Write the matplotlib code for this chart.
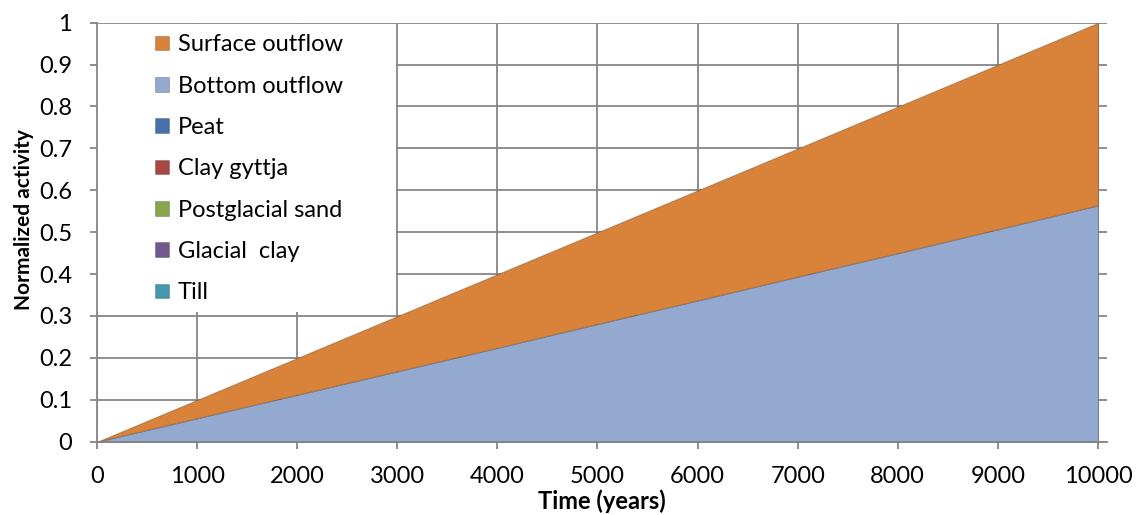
import matplotlib
matplotlib.use("Agg")
import matplotlib.pyplot as plt
import matplotlib.patches as mpatches
import numpy as np

plt.rcParams['font.family'] = ['Lato', 'DejaVu Sans']

# time axis (years) and normalized activity per compartment
time = [0, 1000, 2000, 3000, 4000, 5000, 6000, 7000, 8000, 9000, 10000]
till = [0] * 11
glacial_clay = [0] * 11
postglacial_sand = [0] * 11
clay_gyttja = [0] * 11
peat = [0] * 11
bottom_outflow = [0, 0.056, 0.112, 0.168, 0.224, 0.281, 0.337, 0.394, 0.450, 0.507, 0.564]
surface_outflow = [0, 0.044, 0.088, 0.132, 0.176, 0.219, 0.263, 0.306, 0.350, 0.393, 0.436]

labels = ['Till', 'Glacial  clay', 'Postglacial sand', 'Clay gyttja', 'Peat',
          'Bottom outflow', 'Surface outflow']
colors = ['#4198AF', '#71588F', '#89A54E', '#AA4643', '#4572A7', '#93A9D0', '#D8823A']

fig = plt.figure(figsize=(11.38, 5.15), dpi=100)
ax = fig.add_axes([97/1138, 1 - 441.7/515, 1010/1138, 419/515])

polys = ax.stackplot(time, till, glacial_clay, postglacial_sand, clay_gyttja, peat,
                     bottom_outflow, surface_outflow, labels=labels, colors=colors,
                     linewidth=0.4, zorder=2)
for p, c in zip(polys, colors):
    p.set_edgecolor(c)

ax.set_xlim(0, 10090)
ax.set_ylim(0, 1)
ax.set_xticks(np.arange(0, 10001, 1000))
ax.set_yticks(np.arange(0, 1.01, 0.1))
ax.set_yticklabels(['0', '0.1', '0.2', '0.3', '0.4', '0.5', '0.6', '0.7', '0.8', '0.9', '1'])

gc = '#868686'
ax.set_axisbelow(True)
ax.grid(True, color=gc, linewidth=1.3, zorder=0.5)
for s in ['top', 'right']:
    ax.spines[s].set_visible(False)
for s in ['left', 'bottom']:
    ax.spines[s].set_color(gc)
    ax.spines[s].set_linewidth(1.3)
ax.tick_params(axis='both', colors=gc, labelcolor='black', labelsize=17,
               length=5, width=1.3, direction='out')
ax.tick_params(axis='y', pad=13)
ax.tick_params(axis='x', pad=12.5)

# white box behind legend (hides the grid like the original)
ax.add_patch(mpatches.Rectangle((0, 0.31), 0.296, 0.688, transform=ax.transAxes,
                                facecolor='white', edgecolor='none', zorder=1))

h, l = ax.get_legend_handles_labels()
for p in h:
    p.set_edgecolor('#00000033')
    p.set_linewidth(0.8)
leg = ax.legend(h[::-1], l[::-1], loc='upper left', bbox_to_anchor=(0.0574, 0.972),
                frameon=False, fontsize=17, borderpad=0, borderaxespad=0,
                handlelength=0.58, handleheight=0.58, handletextpad=0.38,
                labelspacing=0.86)
leg.set_zorder(5)

ax.set_xlabel('Time (years)', fontsize=17, fontweight='bold', labelpad=2)
ax.set_ylabel('Normalized activity', fontsize=15, fontweight='bold')
ax.yaxis.set_label_coords(-0.062, 0.529)

fig.savefig('out.png', dpi=100)
